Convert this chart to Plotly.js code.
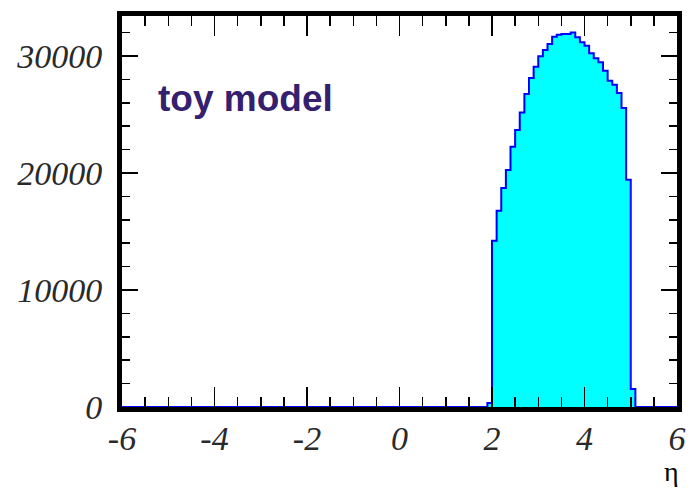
<!DOCTYPE html>
<html>
<head>
<meta charset="utf-8">
<script src="https://cdn.plot.ly/plotly-3.0.1.min.js"></script>
<style>
html,body{margin:0;padding:0;background:#fff;}
#plot{width:689px;height:492px;}
</style>
</head>
<body>
<div id="plot"></div>
<script>
// Histogram of eta, 120 bins from -6 to 6 (width 0.1); only bins from 1.9 to 5.1 are non-zero
const xMin = -6;
const xMax = 6;
const binWidth = 0.1;
const firstFilledBinLow = 1.9;
const filledCounts = [
  350,                                   // 1.9-2.0
  14215, 16780, 18720, 20260, 22250,     // 2.0-2.5
  23680, 25180, 26750, 28120, 29090,     // 2.5-3.0
  29970, 30510, 31030, 31650, 31820,     // 3.0-3.5
  31880, 31880, 32020, 31600, 31170,     // 3.5-4.0
  30880, 30230, 29800, 29460, 28750,     // 4.0-4.5
  27890, 27550, 26840, 25550, 19430,     // 4.5-5.0
  1540                                   // 5.0-5.1
];
const xTickVals = [-6, -4, -2, 0, 2, 4, 6];
const xTickText = ['-6', '-4', '-2', '0', '2', '4', '6'];
const yTickVals = [0, 10000, 20000, 30000];
const yTickText = ['0', '10000', '20000', '30000'];
const labelText = 'toy model';
const axisTitle = 'η';

// build step outline: left edges of each bin + closing edge
const xs = [xMin];
const ys = [0];
for (let i = 0; i < filledCounts.length; i++) {
  xs.push(+(firstFilledBinLow + i * binWidth).toFixed(3));
  ys.push(filledCounts[i]);
}
xs.push(+(firstFilledBinLow + filledCounts.length * binWidth).toFixed(3));
ys.push(0);
xs.push(xMax);
ys.push(0);

const trace = {
  type: 'scatter',
  mode: 'lines',
  x: xs,
  y: ys,
  line: {shape: 'hv', color: '#0000ff', width: 2},
  fill: 'tozeroy',
  fillcolor: '#00ffff',
  hoverinfo: 'skip'
};

const tickFont = {family: 'Liberation Serif', size: 34, color: '#2a2a2a', style: 'italic', weight: 'normal'};

const layout = {
  width: 689,
  height: 492,
  margin: {l: 122, r: 12, t: 16, b: 85},
  paper_bgcolor: '#ffffff',
  plot_bgcolor: '#ffffff',
  showlegend: false,
  xaxis: {
    range: [xMin, xMax],
    tickvals: xTickVals,
    ticktext: xTickText,
    ticks: 'inside',
    ticklen: 20,
    tickwidth: 1.5,
    tickcolor: '#000',
    minor: {dtick: 0.5, ticks: 'inside', ticklen: 10, tickwidth: 1.5, tickcolor: '#000'},
    showline: true,
    linewidth: 5,
    linecolor: '#000',
    mirror: 'allticks',
    showgrid: false,
    zeroline: false,
    tickfont: tickFont,
    ticklabelstandoff: -3
  },
  yaxis: {
    range: [0, 33420],
    tickvals: yTickVals,
    ticktext: yTickText,
    ticks: 'inside',
    ticklen: 16,
    tickwidth: 1.5,
    tickcolor: '#000',
    minor: {dtick: 2000, ticks: 'inside', ticklen: 8, tickwidth: 1.5, tickcolor: '#000'},
    showline: true,
    linewidth: 5,
    linecolor: '#000',
    mirror: 'allticks',
    showgrid: false,
    zeroline: false,
    tickfont: tickFont,
    ticklabelstandoff: 8
  },
  annotations: [
    {
      text: labelText,
      xref: 'paper', yref: 'paper',
      x: 0.062, y: 0.79,
      xanchor: 'left', yanchor: 'middle',
      showarrow: false,
      font: {family: 'Liberation Sans', size: 37, color: '#352070', weight: 'bold'}
    },
    {
      text: axisTitle,
      xref: 'paper', yref: 'paper',
      x: 1.007, y: -0.165,
      xanchor: 'right', yanchor: 'middle',
      showarrow: false,
      font: {family: 'Liberation Serif', size: 28, color: '#000'}
    }
  ]
};

Plotly.newPlot('plot', [trace], layout, {staticPlot: true, displayModeBar: false});
</script>
</body>
</html>
